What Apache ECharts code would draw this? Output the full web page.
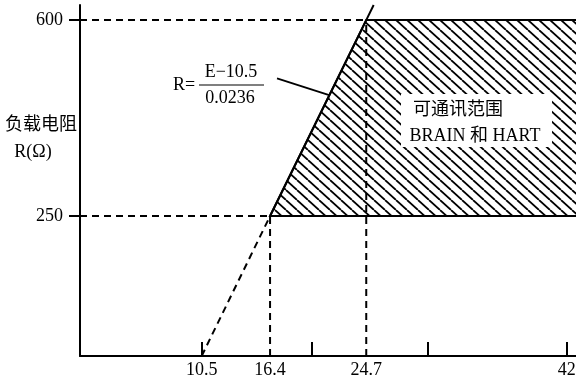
<!DOCTYPE html>
<html>
<head>
<meta charset="utf-8">
<script src="https://cdn.jsdelivr.net/npm/echarts@6/dist/echarts.min.js"></script>
<style>
  html, body { margin: 0; padding: 0; background: #fff; }
  #chart { width: 576px; height: 385px; }
</style>
</head>
<body>
<div id="chart"></div>
<script>
// supply voltage E (V) vs load resistance R (ohm), R = (E - 10.5) / 0.0236
const lineE = [10.5, 16.4, 24.7, 25.34];
const lineR = [0, 250, 600, 627];
const xTickLabels = [10.5, 16.4, 24.7, 42];
const xTickMarks = [10.5, 20, 30, 42];
const yTicks = [250, 600];
// communication region (runs off the right edge)
const regionE = [16.4, 24.7, 50, 50];
const regionR = [250, 600, 600, 250];
// leader line from the formula to the boundary
const leaderE = [17.0, 21.5];
const leaderR = [496, 466];

const FONT = "'Liberation Serif', 'Noto Sans CJK SC', serif";
const chart = echarts.init(document.getElementById('chart'));

// diagonal hatch tile
const tile = document.createElement('canvas');
tile.width = 11;
tile.height = 10;
const g = tile.getContext('2d');
g.strokeStyle = '#000';
g.lineWidth = 1.8;
[-11, 0, 11].forEach(o => {
  g.beginPath();
  g.moveTo(o, 0);
  g.lineTo(o + 11, 10);
  g.stroke();
});

const pt = i => [lineE[i], lineR[i]];
const dashed = [
  [pt(0), pt(1)],
  [[lineE[1], 0], pt(1)],
  [[lineE[2], 0], pt(2)],
  [[0, lineR[1]], pt(1)],
  [[0, lineR[2]], pt(2)]
];

const series = [
  {
    type: 'custom',
    silent: true,
    data: [[0, 0]],
    renderItem: (params, api) => ({
      type: 'polygon',
      shape: { points: regionE.map((e, i) => api.coord([e, regionR[i]])) },
      style: { fill: { image: tile, repeat: 'repeat' }, stroke: '#000', lineWidth: 2 }
    })
  },
  {
    type: 'line',
    data: [pt(1), pt(2), pt(3)],
    symbol: 'none',
    lineStyle: { color: '#000', width: 2 }
  },
  {
    type: 'line',
    data: leaderE.map((e, i) => [e, leaderR[i]]),
    symbol: 'none',
    lineStyle: { color: '#000', width: 1.8 }
  }
];
dashed.forEach(d => series.push({
  type: 'line',
  data: d,
  symbol: 'none',
  lineStyle: { color: '#000', width: 2, type: [7, 5] }
}));

const txt = (x, y, text) => ({
  type: 'text', x: x, y: y, z: 100,
  style: { text: text, fontSize: 18, fontFamily: FONT, fill: '#000', align: 'center', verticalAlign: 'middle' }
});

chart.setOption({
  animation: false,
  backgroundColor: '#fff',
  grid: { left: 80, right: 0, top: 5, bottom: 29, containLabel: false, outerBoundsMode: 'none' },
  xAxis: {
    type: 'value',
    min: 0,
    max: 42.8,
    splitLine: { show: false },
    axisLine: { lineStyle: { color: '#000', width: 2 } },
    axisTick: { customValues: xTickMarks, inside: true, length: 14, lineStyle: { color: '#000', width: 2 } },
    axisLabel: { customValues: xTickLabels, margin: 5, color: '#000', fontSize: 18, fontFamily: FONT }
  },
  yAxis: {
    type: 'value',
    min: 0,
    max: 627,
    splitLine: { show: false },
    axisLine: { show: true, lineStyle: { color: '#000', width: 2 } },
    axisTick: { show: true, customValues: yTicks, length: 11, lineStyle: { color: '#000', width: 2 } },
    axisLabel: { customValues: yTicks, margin: 17, color: '#000', fontSize: 18, fontFamily: FONT }
  },
  series: series,
  graphic: [
    txt(41, 125, '负载电阻'),
    txt(33, 152, 'R(Ω)'),
    txt(184, 85, 'R='),
    txt(231, 72, 'E−10.5'),
    { type: 'line', z: 100, shape: { x1: 199, y1: 85, x2: 264, y2: 85 }, style: { stroke: '#000', lineWidth: 1.2 } },
    txt(230, 98, '0.0236'),
    { type: 'rect', z: 99, shape: { x: 401, y: 94, width: 151, height: 53 }, style: { fill: '#fff' } },
    txt(458, 110, '可通讯范围'),
    txt(475, 136, 'BRAIN 和 HART')
  ]
});
</script>
</body>
</html>
